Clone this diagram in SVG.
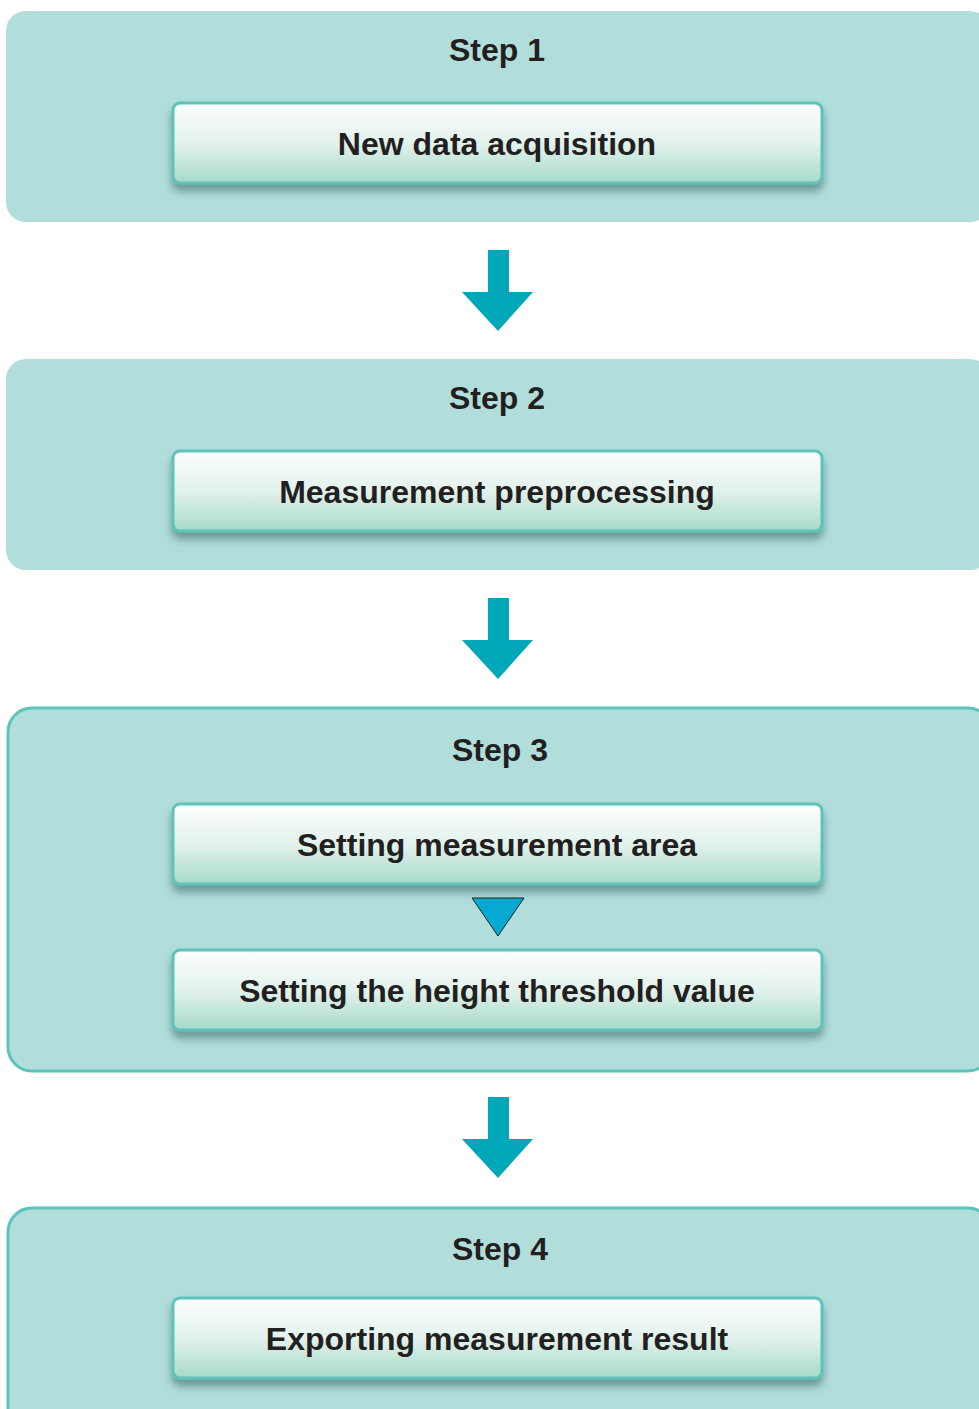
<svg xmlns="http://www.w3.org/2000/svg" width="979" height="1409" viewBox="0 0 979 1409">
<defs>
<linearGradient id="boxGrad" x1="0" y1="0" x2="0" y2="1">
<stop offset="0" stop-color="#fdfefe"/>
<stop offset="0.5" stop-color="#e2f2ec"/>
<stop offset="1" stop-color="#a6dac9"/>
</linearGradient>
<filter id="shadow" x="-10%" y="-20%" width="120%" height="160%">
<feGaussianBlur in="SourceAlpha" stdDeviation="4"/>
<feOffset dx="0" dy="7" result="b"/>
<feFlood flood-color="#2f5f5c" flood-opacity="0.55"/>
<feComposite in2="b" operator="in" result="s"/>
<feMerge><feMergeNode in="s"/><feMergeNode in="SourceGraphic"/></feMerge>
</filter>
</defs>
<style>
.panel{fill:#b1dedb}
.panelS{fill:#b1dedb;stroke:#5bc4bb;stroke-width:3}
.box{fill:url(#boxGrad);stroke:#5bc4bb;stroke-width:3;filter:url(#shadow)}
.t{font-family:"Liberation Sans",Arial,sans-serif;font-weight:bold;font-size:32px;fill:#231f20;text-anchor:middle}
.arrow{fill:#00a7b9}
</style>
<rect width="979" height="1409" fill="#ffffff"/>
<g id="step1">
<rect class="panel" x="6" y="11" width="984" height="211" rx="20"/>
<text class="t" x="497" y="61">Step 1</text>
<g id="node-new-data">
<rect class="box" x="173" y="103" width="649" height="80" rx="7"/>
<text class="t" x="497" y="155">New data acquisition</text>
</g>
</g>
<g id="step2">
<rect class="panel" x="6" y="359" width="984" height="211" rx="20"/>
<text class="t" x="497" y="409">Step 2</text>
<g id="node-preprocessing">
<rect class="box" x="173" y="451" width="649" height="80" rx="7"/>
<text class="t" x="497" y="503">Measurement preprocessing</text>
</g>
</g>
<g id="step3">
<rect class="panelS" x="8" y="708" width="984" height="363" rx="24"/>
<text class="t" x="500" y="761">Step 3</text>
<g id="node-area">
<rect class="box" x="173" y="804" width="649" height="80" rx="7"/>
<text class="t" x="497" y="856">Setting measurement area</text>
</g>
<g id="node-threshold">
<rect class="box" x="173" y="950" width="649" height="80" rx="7"/>
<text class="t" x="497" y="1002">Setting the height threshold value</text>
</g>
</g>
<g id="step4">
<rect class="panelS" x="8" y="1208" width="984" height="240" rx="24"/>
<text class="t" x="500" y="1260">Step 4</text>
<g id="node-export">
<rect class="box" x="173" y="1298" width="649" height="80" rx="7"/>
<text class="t" x="497" y="1350">Exporting measurement result</text>
</g>
</g>
<g id="connectors">
<polygon class="arrow" points="488,250 509,250 509,292 533,292 498,331 462,292 488,292"/>
<polygon class="arrow" points="488,598 509,598 509,640 533,640 498,679 462,640 488,640"/>
<polygon class="arrow" points="488,1097 509,1097 509,1139 533,1139 498,1178 462,1139 488,1139"/>
<polygon points="472,898 524,898 498,936" fill="#05a9d1" stroke="#231f20" stroke-width="1"/>
</g>
</svg>
